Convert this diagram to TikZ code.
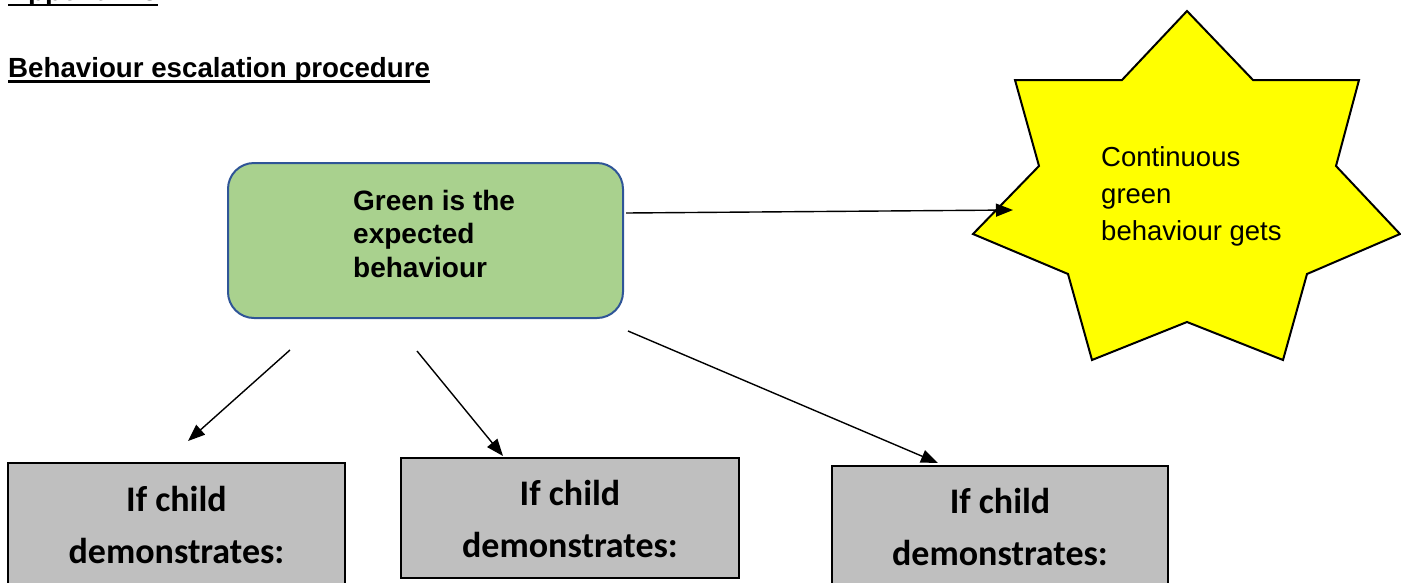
\documentclass[tikz,border=0pt]{standalone}
\usepackage{fontspec}
\setmainfont{Liberation Sans}
\newfontfamily\carlito{Carlito}
\usetikzlibrary{arrows.meta}
\definecolor{boxgreen}{HTML}{A9D18E}
\definecolor{boxblue}{HTML}{2F5597}
\definecolor{boxgrey}{HTML}{BFBFBF}
\definecolor{staryellow}{HTML}{FFFF00}
\begin{document}
\begin{tikzpicture}[x=1pt,y=-1pt,
  headfont/.style={font=\bfseries\fontsize{27.7}{33}\selectfont, inner sep=0pt, anchor=base west},
  greenbox/.style={draw=boxblue, fill=boxgreen, line width=2pt, rounded corners=26pt, minimum width=395pt, minimum height=155pt, inner sep=0pt},
  greytxt/.style={font=\carlito\bfseries\fontsize{36}{51.5}\selectfont, align=center, inner sep=0pt, anchor=base},
  greybox/.style={draw=black, fill=boxgrey, line width=2pt, inner sep=0pt},
  conn/.style={line width=1.4pt, -{Triangle[length=17pt,width=13pt]}}]
\useasboundingbox (0,0) rectangle (1401,582);

% headings
\node[headfont] (app) at (8,0.5) {Appendix 3};
\draw[line width=2.5pt] ([yshift=-4.5pt]app.base west) -- ([yshift=-4.5pt]app.base east);
\node[headfont] (title) at (8,77) {Behaviour escalation procedure};
\draw[line width=2.5pt] ([yshift=-4.5pt]title.base west) -- ([yshift=-4.5pt]title.base east);

% green box
\node[greenbox] (green) at (425.5,240.5) {};
\node[font=\bfseries\fontsize{28}{33.5}\selectfont, align=left, inner sep=0pt, anchor=base west] (gtext) at (353,277) {Green is the\\expected\\behaviour};

% star
\draw[fill=staryellow, line width=2pt, line join=miter]
  (1187,11) -- (1253,80) -- (1359,80) -- (1336,166) -- (1400,234) -- (1307,274)
  -- (1283,360) -- (1187,322) -- (1092,360) -- (1068,274) -- (973,234)
  -- (1039,166) -- (1015,80) -- (1122,80) -- cycle;
\node[font=\fontsize{27.5}{37}\selectfont, align=left, inner sep=0pt, anchor=base west] (star) at (1101,240) {Continuous\\green\\behaviour gets};

% grey boxes
\node[greybox, minimum width=337pt, minimum height=140pt] (box1) at (176.5,533) {};
\node[greytxt] (t1) at (176.5,563) {If child\\demonstrates:};
\node[greybox, minimum width=338pt, minimum height=120pt] (box2) at (570,517.5) {};
\node[greytxt] (t2) at (570,557) {If child\\demonstrates:};
\node[greybox, minimum width=336pt, minimum height=140pt] (box3) at (1000,536) {};
\node[greytxt] (t3) at (1000,565) {If child\\demonstrates:};

% connector end points
\coordinate (s4) at (626,213);
\coordinate (e4) at (1013,210);
\coordinate (s1) at (290,350);
\coordinate (e1) at (188,441);
\coordinate (s2) at (417,351);
\coordinate (e2) at (503,456);
\coordinate (s3) at (628,331);
\coordinate (e3) at (938,463);

\draw[conn] (s4) -- (e4);
\draw[conn] (s1) -- (e1);
\draw[conn] (s2) -- (e2);
\draw[conn] (s3) -- (e3);
\end{tikzpicture}
\end{document}
